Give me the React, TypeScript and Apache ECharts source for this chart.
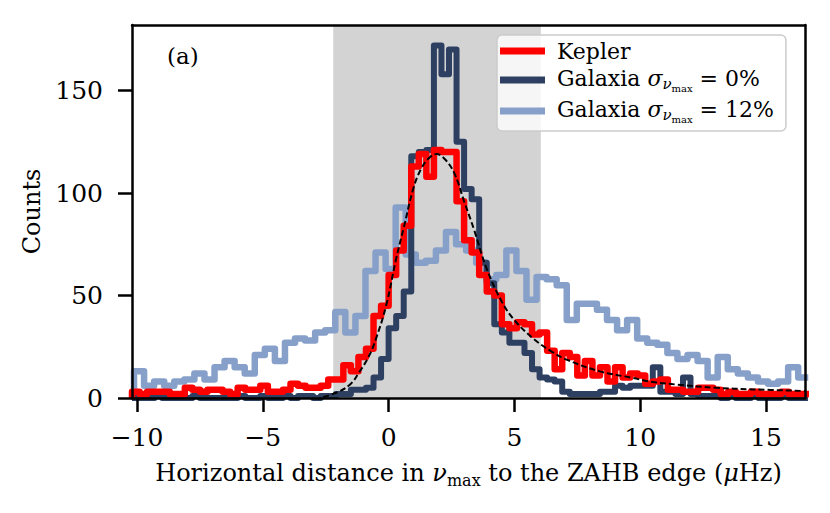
import React, { useEffect, useRef } from 'react';
import * as echarts from 'echarts';

// ---- axis ranges / ticks ----
const X_TICKS = [-10, -5, 0, 5, 10, 15];
const Y_TICKS = [0, 50, 100, 150];
const X_RANGE = [-10.2, 16.55];
const Y_RANGE = [0, 182];
const BAND = [-2.2, 6.05];

// ---- Kepler histogram (bin start, bin width, counts) ----
const KEPLER_START = -10.2;
const KEPLER_BIN = 0.3;
const KEPLER_COUNTS = [
  3, 2, 3, 3, 3, 2, 2, 5, 4, 3,
  4, 4, 3, 2, 5, 4, 4, 6, 3, 3,
  4, 7, 6, 5, 5, 6, 9, 9, 16, 13,
  20, 24, 40, 45, 60, 72, 84, 113, 119, 108,
  121, 120, 120, 96, 77, 71, 60, 52, 50, 36,
  34, 37, 36, 31, 32, 23, 14, 22, 20, 11,
  18, 11, 15, 8, 15, 10, 12, 11, 7, 8,
  9, 4, 4, 3, 3, 5, 5, 4, 2, 3,
  2, 2, 3, 2, 2, 2, 3, 2, 2, 2,
];

// ---- Galaxia sigma = 0% ----
const GAL0_START = -10.2;
const GAL0_BIN = 0.3;
const GAL0_COUNTS = [
  0, 0, 0, 1, 0, 0, 0, 0, 1, 0,
  0, 0, 0, 0, 1, 0, 0, 1, 0, 0,
  1, 0, 1, 1, 0, 1, 1, 2, 2, 4,
  4, 5, 10, 19, 34, 40, 52, 118, 120, 121,
  172, 158, 170, 125, 102, 97, 66, 56, 36, 32,
  27, 27, 22, 14, 10, 9, 8, 3, 2, 2,
  2, 2, 3, 3, 6, 5, 6, 6, 6, 15,
  3, 3, 2, 10, 2, 1, 1, 1, 0, 1,
  0, 0, 1, 0, 0, 0, 1, 0, 0, 0,
];

// ---- Galaxia sigma = 12% ----
const GAL12_START = -10.12;
const GAL12_BIN = 0.4;
const GAL12_COUNTS = [
  13, 6, 8, 6, 8, 9, 12, 9, 15, 18,
  15, 12, 21, 24, 18, 27, 29, 28, 32, 33,
  42, 32, 40, 62, 71, 63, 93, 70, 66, 67,
  72, 81, 75, 72, 66, 58, 60, 72, 62, 48,
  59, 58, 55, 38, 46, 46, 43, 38, 33, 38,
  29, 27, 26, 22, 19, 21, 18, 10, 20, 14,
  12, 10, 8, 7, 8, 15, 10,
];

// ---- fitted curve (dashed) ----
const FIT_X = [-2.6, -2.0, -1.5, -1.2, -0.8, -0.5, -0.1, 0.3, 0.6, 1.0, 1.3, 1.6, 1.9, 2.2, 2.6, 3.0, 3.4, 3.9, 4.5, 5.0, 5.75, 6.5, 7.1, 8.4, 9.7, 10.4, 11.5, 13.0, 14.5, 16.6];
const FIT_Y = [0.5, 3, 7, 12, 20, 29, 45, 68, 83, 103, 112, 117, 119, 117, 110, 96, 82, 63, 47, 38, 29, 22.5, 18.6, 13, 9.8, 8, 6.5, 5, 4.2, 3.4];

const FONT = "'DejaVu Serif', serif";
const COLORS = { kepler: '#ff0000', gal0: '#2e4062', gal12: '#87a0c9' };

function stepPoints(start: number, width: number, counts: number[]) {
  const pts: number[][] = [[start, 0]];
  counts.forEach((c, i) => {
    pts.push([start + i * width, c]);
    pts.push([start + (i + 1) * width, c]);
  });
  return pts;
}

const LEGEND_TEXT: Record<string, string> = {
  Kepler: '{g| Kepler}',
  Galaxia0: '{g| Galaxia }{i|σ}{s|ν}{ss|max}{g| = 0%}',
  Galaxia12: '{g| Galaxia }{i|σ}{s|ν}{ss|max}{g| = 12%}',
};

const fmtNum = (v: number) => (v < 0 ? '\u2212' + Math.abs(v) : String(v));

export default function App() {
  const ref = useRef<HTMLDivElement>(null);
  useEffect(() => {
    if (!ref.current) return;
    const chart = echarts.init(ref.current, undefined, { renderer: 'svg' });
    const histLine = (name: string, color: string, width: number, z: number, pts: number[][]) => ({
      name,
      type: 'line',
      data: pts,
      showSymbol: false,
      symbol: 'none',
      color,
      z,
      clip: true,
      lineStyle: { color, width, join: 'round', cap: 'butt' },
      emphasis: { disabled: true },
    });
    const axisFrame = { show: true, onZero: false, lineStyle: { color: '#000', width: 2.5 } };
    chart.setOption({
      animation: false,
      backgroundColor: '#fff',
      grid: { left: 132, top: 25, right: 25, bottom: 115, containLabel: false },
      xAxis: [
        {
          type: 'value',
          min: X_RANGE[0],
          max: X_RANGE[1],
          z: 10,
          axisLine: axisFrame,
          axisTick: { show: true, customValues: X_TICKS, length: 14, lineStyle: { color: '#000', width: 2.5 } },
          axisLabel: {
            show: true,
            customValues: X_TICKS,
            formatter: (v: number) => fmtNum(v),
            margin: 27,
            color: '#000',
            fontFamily: FONT,
            fontSize: 25,
          },
          splitLine: { show: false },
          name: '{t|Horizontal distance in }{i|ν}{s|max}{t| to the ZAHB edge (}{i|μ}{t|Hz)}',
          nameLocation: 'middle',
          nameGap: 63,
          nameTextStyle: {
            color: '#000',
            fontFamily: FONT,
            fontSize: 24,
            rich: {
              t: { fontFamily: FONT, fontSize: 24, color: '#000', verticalAlign: 'top' },
              i: { fontFamily: FONT, fontSize: 24, color: '#000', fontStyle: 'italic', verticalAlign: 'top' },
              s: { fontFamily: FONT, fontSize: 16, color: '#000', verticalAlign: 'top', padding: [11, 0, 0, 0] },
            },
          },
        },
        {
          type: 'value',
          position: 'top',
          min: X_RANGE[0],
          max: X_RANGE[1],
          z: 10,
          axisLine: axisFrame,
          axisTick: { show: false },
          axisLabel: { show: false },
          splitLine: { show: false },
        },
      ],
      yAxis: [
        {
          type: 'value',
          min: Y_RANGE[0],
          max: Y_RANGE[1],
          z: 10,
          axisLine: axisFrame,
          axisTick: { show: true, customValues: Y_TICKS, length: 14, lineStyle: { color: '#000', width: 2.5 } },
          axisLabel: {
            show: true,
            customValues: Y_TICKS,
            formatter: (v: number) => fmtNum(v),
            margin: 29,
            color: '#000',
            fontFamily: FONT,
            fontSize: 25,
          },
          splitLine: { show: false },
          name: 'Counts',
          nameLocation: 'middle',
          nameGap: 86,
          nameTextStyle: { color: '#000', fontFamily: FONT, fontSize: 24 },
        },
        {
          type: 'value',
          position: 'right',
          min: Y_RANGE[0],
          max: Y_RANGE[1],
          z: 10,
          axisLine: axisFrame,
          axisTick: { show: false },
          axisLabel: { show: false },
          splitLine: { show: false },
        },
      ],
      legend: {
        data: ['Kepler', 'Galaxia0', 'Galaxia12'],
        orient: 'vertical',
        left: 497,
        top: 35,
        icon: 'rect',
        itemWidth: 45,
        itemHeight: 7,
        itemGap: 5,
        padding: [5, 12, 7, 3],
        backgroundColor: 'rgba(255,255,255,0.8)',
        borderColor: '#cccccc',
        borderWidth: 1.5,
        borderRadius: 5,
        selectedMode: false,
        formatter: (name: string) => LEGEND_TEXT[name] || name,
        textStyle: {
          color: '#000',
          fontFamily: FONT,
          fontSize: 22,
          rich: {
            g: { fontFamily: FONT, fontSize: 22, color: '#000', verticalAlign: 'top' },
            i: { fontFamily: FONT, fontSize: 22, color: '#000', fontStyle: 'italic', verticalAlign: 'top' },
            s: { fontFamily: FONT, fontSize: 15, color: '#000', fontStyle: 'italic', verticalAlign: 'top', padding: [9, 0, 0, 0] },
            ss: { fontFamily: FONT, fontSize: 10, color: '#000', verticalAlign: 'top', padding: [16, 0, 0, 0] },
          },
        },
      },
      graphic: [
        {
          type: 'text',
          left: 167,
          top: 44,
          z: 20,
          style: { text: '(a)', font: `23px ${FONT}`, fill: '#000' },
        },
      ],
      series: [
        {
          name: 'band',
          type: 'line',
          data: [],
          z: 1,
          silent: true,
          markArea: {
            silent: true,
            itemStyle: { color: '#d3d3d3' },
            data: [[{ xAxis: BAND[0] }, { xAxis: BAND[1] }]],
          },
        },
        histLine('Galaxia12', COLORS.gal12, 6.5, 2, stepPoints(GAL12_START, GAL12_BIN, GAL12_COUNTS)),
        histLine('Galaxia0', COLORS.gal0, 6, 3, stepPoints(GAL0_START, GAL0_BIN, GAL0_COUNTS)),
        histLine('Kepler', COLORS.kepler, 6.5, 4, stepPoints(KEPLER_START, KEPLER_BIN, KEPLER_COUNTS)),
        {
          name: 'fit',
          type: 'line',
          data: FIT_X.map((x, i) => [x, FIT_Y[i]]),
          smooth: 0.4,
          showSymbol: false,
          symbol: 'none',
          z: 5,
          clip: true,
          lineStyle: { color: '#000', width: 2, type: [6, 3] },
          emphasis: { disabled: true },
        },
      ],
    });
    return () => chart.dispose();
  }, []);
  return (
    <div
      ref={ref}
      style={{ position: 'fixed', left: 0, top: 0, width: 830, height: 513, background: '#fff' }}
    />
  );
}
